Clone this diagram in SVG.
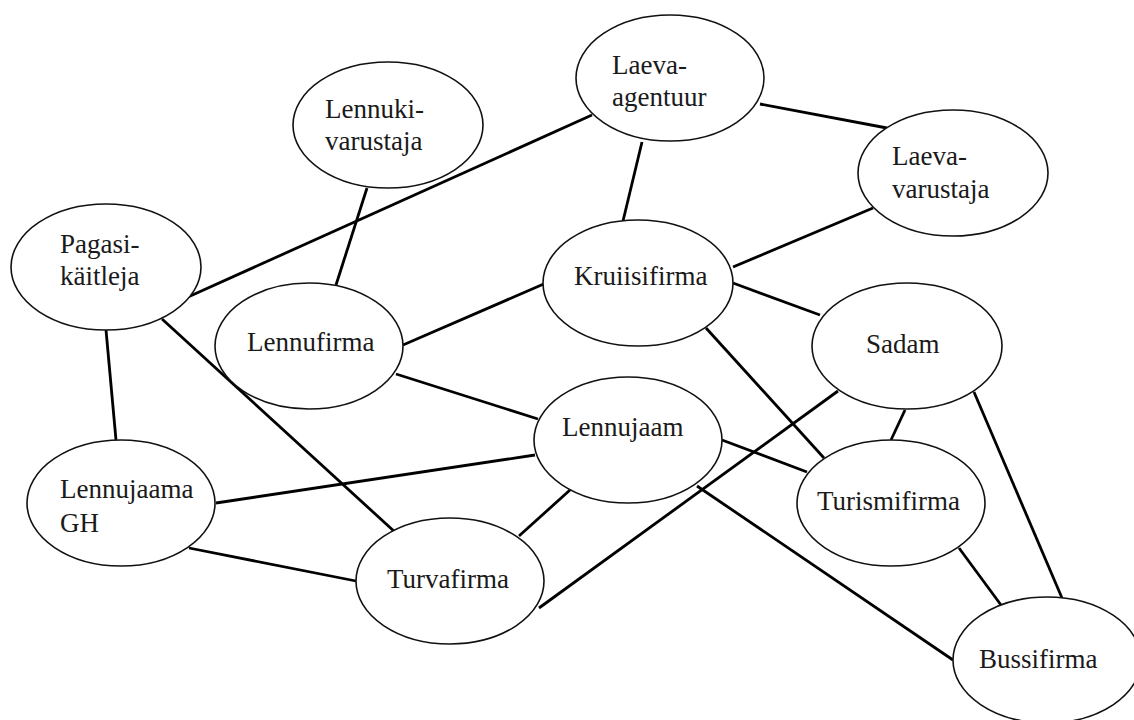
<svg xmlns="http://www.w3.org/2000/svg" width="1134" height="720" viewBox="0 0 1134 720">
<style>
.bg{fill:#ffffff}
.edge{stroke:#000000;stroke-width:2.8;fill:none;stroke-linecap:butt}
.shape{fill:#ffffff;stroke:#111111;stroke-width:1.6}
.lbl{font-family:'Liberation Serif','Times New Roman',serif;font-size:27px;fill:#1a1a1a}
</style>
<rect class="bg" x="0" y="0" width="1134" height="720"/>
<g id="connectors">
<line class="edge" x1="367" y1="188" x2="336" y2="285"/>
<line class="edge" x1="188" y1="297" x2="592" y2="115"/>
<line class="edge" x1="760" y1="104" x2="887" y2="128"/>
<line class="edge" x1="642" y1="142" x2="623" y2="221"/>
<line class="edge" x1="873" y1="208" x2="733" y2="267"/>
<line class="edge" x1="106" y1="330" x2="116" y2="440"/>
<line class="edge" x1="162" y1="319" x2="396" y2="533"/>
<line class="edge" x1="403" y1="345" x2="546" y2="283"/>
<line class="edge" x1="396" y1="374" x2="538" y2="419"/>
<line class="edge" x1="733" y1="283" x2="820" y2="315"/>
<line class="edge" x1="706" y1="328" x2="824" y2="458"/>
<line class="edge" x1="216" y1="503" x2="535" y2="455"/>
<line class="edge" x1="189" y1="548" x2="356" y2="581"/>
<line class="edge" x1="519" y1="536" x2="570" y2="490"/>
<line class="edge" x1="722" y1="440" x2="807" y2="472"/>
<line class="edge" x1="697" y1="486" x2="953" y2="660"/>
<line class="edge" x1="539" y1="608" x2="838" y2="391"/>
<line class="edge" x1="905" y1="410" x2="891" y2="440"/>
<line class="edge" x1="974" y1="392" x2="1062" y2="598"/>
<line class="edge" x1="959" y1="548" x2="1001" y2="605"/>
</g>
<g id="laeva-agentuur">
<ellipse class="shape" cx="670" cy="78" rx="94" ry="63"/>
<text class="lbl" x="612" y="74">Laeva-</text>
<text class="lbl" x="612" y="106">agentuur</text>
</g>
<g id="lennuki-varustaja">
<ellipse class="shape" cx="388" cy="125" rx="95" ry="63"/>
<text class="lbl" x="325" y="118">Lennuki-</text>
<text class="lbl" x="325" y="150">varustaja</text>
</g>
<g id="laeva-varustaja">
<ellipse class="shape" cx="953" cy="173" rx="95" ry="63"/>
<text class="lbl" x="892" y="165">Laeva-</text>
<text class="lbl" x="892" y="198">varustaja</text>
</g>
<g id="pagasi-kaitleja">
<ellipse class="shape" cx="106" cy="267" rx="95" ry="63"/>
<text class="lbl" x="60" y="253">Pagasi-</text>
<text class="lbl" x="60" y="285">käitleja</text>
</g>
<g id="kruiisifirma">
<ellipse class="shape" cx="638" cy="283" rx="95" ry="63"/>
<text class="lbl" x="574" y="285">Kruiisifirma</text>
</g>
<g id="lennufirma">
<ellipse class="shape" cx="309" cy="346" rx="94" ry="63"/>
<text class="lbl" x="247" y="351">Lennufirma</text>
</g>
<g id="sadam">
<ellipse class="shape" cx="907" cy="346" rx="95" ry="63"/>
<text class="lbl" x="866" y="353">Sadam</text>
</g>
<g id="lennujaam">
<ellipse class="shape" cx="628" cy="440" rx="94" ry="63"/>
<text class="lbl" x="562" y="436">Lennujaam</text>
</g>
<g id="turismifirma">
<ellipse class="shape" cx="891" cy="503" rx="94" ry="63"/>
<text class="lbl" x="817" y="510">Turismifirma</text>
</g>
<g id="lennujaama-gh">
<ellipse class="shape" cx="121" cy="503" rx="94" ry="63"/>
<text class="lbl" x="60" y="498">Lennujaama</text>
<text class="lbl" x="60" y="532">GH</text>
</g>
<g id="turvafirma">
<ellipse class="shape" cx="450" cy="581" rx="94" ry="63"/>
<text class="lbl" x="387" y="588">Turvafirma</text>
</g>
<g id="bussifirma">
<ellipse class="shape" cx="1047" cy="660" rx="94" ry="63"/>
<text class="lbl" x="979" y="668">Bussifirma</text>
</g>
</svg>
